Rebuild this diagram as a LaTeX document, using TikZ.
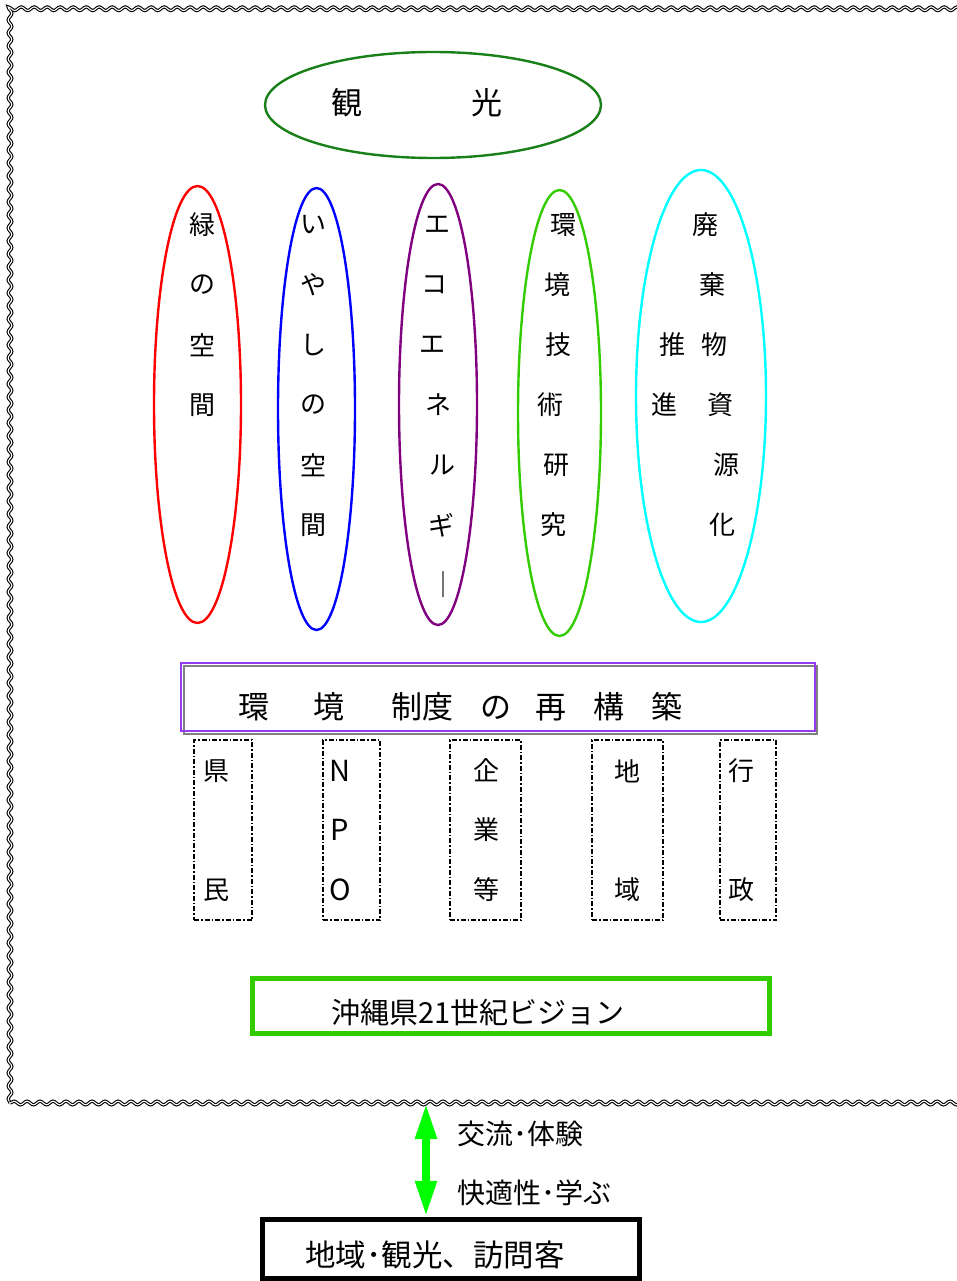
\documentclass[tikz,border=0pt]{standalone}
\usepackage{fontspec}
\setmainfont{Noto Sans CJK JP}
\usetikzlibrary{shapes.geometric,decorations.pathmorphing,arrows.meta}
\definecolor{frameviolet}{RGB}{150,60,240}
\definecolor{visiongreen}{RGB}{51,204,0}
\definecolor{kankogreen}{RGB}{25,128,25}
\definecolor{ecoviolet}{RGB}{128,0,128}
\definecolor{haikicyan}{RGB}{0,255,255}
\newcommand{\fsz}[1]{\fontsize{#1}{#1}\selectfont}

\tikzset{
  oval/.style={draw, ellipse, line width=2.4pt, inner sep=0pt},
  groupbox/.style={draw, line width=1.2pt, dash pattern=on 5pt off 2pt on 1.5pt off 2pt, inner sep=0pt},
  chr/.style={inner sep=0pt, font=\fsz{26}},
  wave/.style={decorate, decoration={snake, segment length=13pt, amplitude=1.8pt},
    line width=1.1pt, double=white, double distance=1.1pt}
}

\begin{document}
\begin{tikzpicture}[x=1pt,y=-1pt]
  \useasboundingbox (0,0) rectangle (956,1281);
  % wavy frame
  \coordinate (fTL) at (10,10);
  \coordinate (fBL) at (10,1103);
  \draw[wave] (fBL) -- (fTL) -- (980,10);
  \draw[wave] (fBL) -- (980,1103);

  % kanko
  \node[oval, draw=kankogreen, minimum width=336pt, minimum height=106pt] (kanko) at (433,105) {};
  \node[chr, font=\fsz{31}] (kan) at (347,103) {観};
  \node[chr, font=\fsz{31}] (ko) at (487,103) {光};

  % five ovals
  \node[oval, draw=red, minimum width=87pt, minimum height=437pt] (midori) at (197.5,404.5) {};
  \foreach \c [count=\i] in {緑,の,空,間}
    \node[chr] (midori\i) at (202,165+60*\i) {\c};

  \node[oval, draw=blue, minimum width=77pt, minimum height=442pt] (iyashi) at (316.5,409) {};
  \foreach \c [count=\i] in {い,や,し,の,空,間}
    \node[chr] (iyashi\i) at (313,165+60*\i) {\c};

  \node[oval, draw=ecoviolet, minimum width=78pt, minimum height=441pt] (eco) at (438,404.5) {};
  \foreach \x/\c [count=\i] in {437/エ,434/コ,432/エ,438/ネ,442/ル,441/ギ,443/｜}
    \node[chr] (eco\i) at (\x,165+60*\i) {\c};

  \node[oval, draw=visiongreen, minimum width=83pt, minimum height=446pt] (gijutsu) at (559.5,413) {};
  \foreach \x/\c [count=\i] in {563/環,557/境,558/技,550/術,556/研,553/究}
    \node[chr] (gijutsu\i) at (\x,165+60*\i) {\c};

  \node[oval, draw=haikicyan, minimum width=130pt, minimum height=452pt] (haiki) at (701,396) {};
  \foreach \x/\y/\c [count=\i] in {705/225/廃,712/285/棄,714/345/物,720/405/資,726/465/源,722/525/化,672/345/推,664/405/進}
    \node[chr] (haiki\i) at (\x,\y) {\c};

  % seido box
  \draw[gray, line width=2.5pt] (184,666) rectangle (817,734);
  \node[draw=frameviolet, line width=2pt, minimum width=634pt, minimum height=68pt, inner sep=0pt] (seido) at (498,697) {};
  \node[anchor=west, inner sep=0pt, font=\fsz{31}] (seidotext) at (238,707)
    {環\hspace{44pt}境\hspace{47pt}制度\hspace{27pt}の\hspace{24pt}再\hspace{27pt}構\hspace{27pt}築};

  % actors
  \node[groupbox, minimum width=58pt, minimum height=180pt] (kenmin) at (223,830) {};
  \node[chr] (ken) at (216,771) {県};
  \node[chr] (min) at (216,890) {民};

  \node[groupbox, minimum width=57pt, minimum height=180pt] (npo) at (351.5,830) {};
  \foreach \c [count=\i] in {N,P,O}
    \node[chr, font=\fsz{29}] (npo\i) at (340,711+59.5*\i) {\c};

  \node[groupbox, minimum width=71pt, minimum height=180pt] (kigyo) at (485.5,830) {};
  \foreach \c [count=\i] in {企,業,等}
    \node[chr] (kigyo\i) at (486,711+59.5*\i) {\c};

  \node[groupbox, minimum width=71pt, minimum height=180pt] (chiiki) at (627.5,830) {};
  \node[chr] (chi) at (627,771) {地};
  \node[chr] (iki) at (627,890) {域};

  \node[groupbox, minimum width=56pt, minimum height=180pt] (gyosei) at (748,830) {};
  \node[chr] (gyo) at (741,771) {行};
  \node[chr] (sei) at (741,890) {政};

  % vision
  \node[draw=visiongreen, line width=5pt, minimum width=517pt, minimum height=55pt, inner sep=0pt] (vision) at (511,1006) {};
  \node[inner sep=0pt, font=\fsz{29}] (visiontext) at (478,1012) {沖縄県21世紀ビジョン};

  % visitors
  \node[draw=black, line width=5.5pt, minimum width=377pt, minimum height=59pt, inner sep=0pt] (kyaku) at (451,1249) {};
  \node[inner sep=0pt, font=\fsz{30.5}] (kyakutext) at (435,1255) {地域･観光、訪問客};

  \coordinate (arrtop) at (426,1103);
  \draw[{Triangle[width=20pt,length=36pt]}-{Triangle[width=20pt,length=36pt]}, line width=8pt, green]
    (arrtop) -- (kyaku.north -| arrtop);
  \node[anchor=west, inner sep=0pt, font=\fsz{28}] (koryu) at (457,1134) {交流･体験};
  \node[anchor=west, inner sep=0pt, font=\fsz{28}] (kaiteki) at (457,1193) {快適性･学ぶ};
\end{tikzpicture}
\end{document}
